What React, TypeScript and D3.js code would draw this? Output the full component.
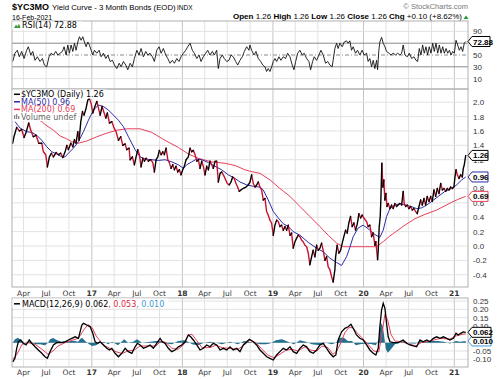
import React from "react";
import * as d3 from "d3";

const W = 500;
const H = 379;
const L = 12;
const R = 468;
const RSI_TOP = 21;
const MAIN_TOP = 89;
const MAIN_BOT = 287;
const MACD_TOP = 298;
const MACD_BOT = 367;

// time as decimal year, value
const priceSeries: [number, number][] = [
  [2016.129,1.43],[2016.143,1.52],[2016.173,1.65],[2016.202,1.60],[2016.228,1.62],[2016.254,1.51],[2016.276,1.58],[2016.306,1.71],[2016.328,1.61],[2016.356,1.52],[2016.386,1.54],[2016.416,1.43],[2016.449,1.43],[2016.467,1.31],[2016.493,1.27],[2016.511,1.10],[2016.533,1.24],[2016.555,1.29],[2016.577,1.24],[2016.607,1.30],[2016.632,1.27],[2016.658,1.29],[2016.681,1.23],[2016.706,1.31],[2016.725,1.40],[2016.742,1.34],[2016.769,1.43],[2016.791,1.38],[2016.809,1.48],[2016.827,1.43],[2016.846,1.59],[2016.860,1.47],[2016.879,1.73],[2016.897,1.87],[2016.915,1.82],[2016.938,1.92],[2016.956,2.03],[2016.974,2.05],[2016.993,1.98],
  [2017.011,1.85],[2017.034,1.94],[2017.056,2.01],[2017.073,1.92],[2017.092,1.82],[2017.114,1.94],[2017.136,1.85],[2017.155,1.78],[2017.172,1.85],[2017.195,1.71],[2017.221,1.73],[2017.246,1.64],[2017.268,1.59],[2017.294,1.47],[2017.320,1.52],[2017.342,1.40],[2017.368,1.42],[2017.386,1.34],[2017.412,1.36],[2017.423,1.20],[2017.448,1.24],[2017.470,1.13],[2017.489,1.24],[2017.508,1.34],[2017.525,1.27],[2017.544,1.10],[2017.563,1.22],[2017.581,1.18],[2017.599,1.22],[2017.625,1.18],[2017.651,1.20],[2017.673,1.16],[2017.691,1.03],[2017.710,1.20],[2017.729,1.24],[2017.746,1.33],[2017.765,1.27],[2017.784,1.31],[2017.801,1.27],[2017.820,1.36],[2017.839,1.20],[2017.856,1.16],[2017.875,1.08],[2017.894,1.13],[2017.912,1.06],[2017.930,1.11],[2017.949,1.03],[2017.967,1.06],[2017.985,0.99],
  [2018.004,1.06],[2018.022,1.11],[2018.041,1.20],[2018.066,1.24],[2018.085,1.36],[2018.103,1.31],[2018.121,1.33],[2018.140,1.27],[2018.159,1.18],[2018.177,1.20],[2018.195,1.08],[2018.214,1.18],[2018.231,1.11],[2018.250,0.99],[2018.269,1.11],[2018.287,1.06],[2018.305,1.18],[2018.324,1.13],[2018.342,1.08],[2018.361,1.18],[2018.379,1.18],[2018.397,0.89],[2018.416,1.01],[2018.434,1.03],[2018.452,0.99],[2018.471,0.94],[2018.496,0.87],[2018.518,0.85],[2018.537,0.89],[2018.555,0.96],[2018.573,0.94],[2018.592,0.87],[2018.610,0.82],[2018.628,0.76],[2018.647,0.78],[2018.672,0.80],[2018.702,0.82],[2018.727,0.85],[2018.747,0.89],[2018.765,0.99],[2018.783,0.87],[2018.802,0.82],[2018.821,0.85],[2018.838,0.89],[2018.857,0.82],[2018.875,0.78],[2018.893,0.64],[2018.912,0.66],[2018.930,0.48],[2018.948,0.43],[2018.966,0.36],[2018.985,0.32],
  [2019.004,0.15],[2019.022,0.29],[2019.041,0.36],[2019.059,0.34],[2019.077,0.27],[2019.096,0.29],[2019.114,0.22],[2019.133,0.27],[2019.151,0.22],[2019.169,0.29],[2019.188,0.15],[2019.206,0.18],[2019.224,-0.03],[2019.243,0.06],[2019.262,0.11],[2019.279,0.15],[2019.298,0.13],[2019.317,0.08],[2019.334,0.06],[2019.353,0.01],[2019.372,-0.01],[2019.390,-0.10],[2019.408,-0.26],[2019.427,-0.15],[2019.444,-0.06],[2019.463,-0.15],[2019.482,0.01],[2019.500,-0.06],[2019.519,-0.03],[2019.537,0.04],[2019.555,-0.06],[2019.574,-0.20],[2019.593,-0.15],[2019.610,-0.29],[2019.629,-0.33],[2019.648,-0.43],[2019.665,-0.50],[2019.684,-0.33],[2019.692,-0.15],[2019.709,0.01],[2019.728,-0.10],[2019.747,-0.06],[2019.765,0.04],[2019.783,0.13],[2019.802,0.22],[2019.820,0.18],[2019.838,0.32],[2019.857,0.41],[2019.875,0.27],[2019.894,0.32],[2019.912,0.22],[2019.930,0.30],[2019.941,0.38],[2019.949,0.45],[2019.968,0.39],[2019.985,0.43],
  [2020.004,0.39],[2020.034,0.34],[2020.051,0.27],[2020.070,0.29],[2020.089,0.13],[2020.107,0.18],[2020.125,0.01],[2020.136,0.06],[2020.155,-0.19],[2020.162,-0.06],[2020.173,0.27],[2020.184,0.41],[2020.191,0.64],[2020.202,1.15],[2020.213,0.82],[2020.224,0.92],[2020.235,0.64],[2020.247,0.73],[2020.258,0.55],[2020.272,0.59],[2020.291,0.52],[2020.309,0.57],[2020.327,0.52],[2020.346,0.59],[2020.364,0.55],[2020.382,0.57],[2020.401,0.59],[2020.420,0.57],[2020.437,0.76],[2020.448,0.59],[2020.464,0.55],[2020.481,0.57],[2020.500,0.52],[2020.519,0.55],[2020.537,0.50],[2020.555,0.52],[2020.574,0.48],[2020.592,0.45],[2020.611,0.55],[2020.629,0.64],[2020.647,0.57],[2020.666,0.66],[2020.684,0.57],[2020.702,0.69],[2020.721,0.62],[2020.740,0.69],[2020.757,0.62],[2020.776,0.78],[2020.794,0.69],[2020.813,0.80],[2020.831,0.73],[2020.850,0.87],[2020.868,0.78],[2020.886,0.80],[2020.905,0.76],[2020.923,0.80],[2020.941,0.78],[2020.960,0.82],[2020.978,0.80],[2020.996,0.82],
  [2021.007,0.96],[2021.019,1.06],[2021.033,0.99],[2021.052,0.94],[2021.070,0.99],[2021.088,0.96],[2021.099,1.08],[2021.110,1.13],[2021.126,1.26]
];

const ma50Series: [number, number][] = [
  [2016.154,1.73],[2016.210,1.64],[2016.283,1.59],[2016.339,1.58],[2016.394,1.54],[2016.449,1.47],[2016.504,1.38],[2016.559,1.31],[2016.614,1.28],[2016.670,1.24],[2016.706,1.24],[2016.742,1.29],[2016.797,1.36],[2016.853,1.45],[2016.908,1.59],[2016.963,1.75],[2017.018,1.89],[2017.073,1.96],[2017.128,1.94],[2017.184,1.89],[2017.239,1.82],[2017.294,1.75],[2017.349,1.66],[2017.404,1.52],[2017.478,1.34],[2017.533,1.24],[2017.588,1.21],[2017.662,1.20],[2017.735,1.19],[2017.809,1.20],[2017.883,1.17],[2017.956,1.13],[2018.011,1.08],[2018.048,1.13],[2018.103,1.17],[2018.159,1.21],[2018.214,1.20],[2018.287,1.16],[2018.360,1.11],[2018.434,1.06],[2018.507,0.99],[2018.581,0.94],[2018.636,0.89],[2018.710,0.85],[2018.783,0.83],[2018.857,0.82],[2018.893,0.78],[2018.948,0.64],[2019.004,0.48],[2019.059,0.39],[2019.114,0.31],[2019.169,0.27],[2019.224,0.20],[2019.298,0.15],[2019.390,0.05],[2019.482,-0.03],[2019.555,-0.08],[2019.629,-0.17],[2019.703,-0.23],[2019.758,-0.27],[2019.813,-0.15],[2019.849,-0.02],[2019.886,0.13],[2019.941,0.25],[2019.996,0.29],[2020.051,0.24],[2020.125,0.16],[2020.180,0.12],[2020.217,0.22],[2020.254,0.41],[2020.291,0.52],[2020.346,0.57],[2020.401,0.59],[2020.456,0.57],[2020.523,0.55],[2020.585,0.52],[2020.640,0.53],[2020.696,0.57],[2020.751,0.62],[2020.823,0.69],[2020.897,0.76],[2020.971,0.80],[2021.026,0.85],[2021.082,0.92],[2021.126,0.96]
];

const ma200Series: [number, number][] = [
  [2016.129,1.93],[2016.320,1.82],[2016.450,1.73],[2016.485,1.69],[2016.577,1.61],[2016.651,1.53],[2016.725,1.49],[2016.780,1.45],[2016.853,1.43],[2016.945,1.46],[2017.056,1.52],[2017.166,1.57],[2017.276,1.61],[2017.386,1.63],[2017.533,1.63],[2017.662,1.58],[2017.809,1.47],[2017.956,1.37],[2018.066,1.28],[2018.176,1.22],[2018.324,1.17],[2018.471,1.15],[2018.581,1.12],[2018.691,1.06],[2018.746,1.04],[2018.857,1.01],[2018.967,0.92],[2019.077,0.80],[2019.188,0.69],[2019.298,0.55],[2019.408,0.41],[2019.519,0.27],[2019.610,0.15],[2019.703,0.04],[2019.776,-0.01],[2019.872,-0.01],[2019.982,-0.01],[2020.144,-0.01],[2020.217,0.06],[2020.291,0.14],[2020.368,0.21],[2020.456,0.29],[2020.567,0.38],[2020.677,0.44],[2020.806,0.50],[2020.897,0.56],[2020.974,0.61],[2021.044,0.65],[2021.126,0.69]
];

const rsiSeries: [number, number][] = [
  [2016.129,39],[2016.154,53],[2016.180,58],[2016.202,47],[2016.228,56],[2016.254,44],[2016.283,58],[2016.301,64],[2016.328,50],[2016.350,56],[2016.375,41],[2016.400,47],[2016.430,39],[2016.456,44],[2016.478,33],[2016.504,30],[2016.529,47],[2016.552,53],[2016.577,50],[2016.603,56],[2016.625,50],[2016.651,53],[2016.676,56],[2016.695,64],[2016.717,50],[2016.736,67],[2016.753,53],[2016.772,67],[2016.791,56],[2016.809,70],[2016.827,58],[2016.846,72],[2016.864,81],[2016.882,75],[2016.901,81],[2016.919,72],[2016.938,64],[2016.956,72],[2016.974,67],[2016.993,58],
  [2017.011,50],[2017.029,58],[2017.056,53],[2017.081,58],[2017.103,47],[2017.128,53],[2017.155,44],[2017.177,50],[2017.202,39],[2017.228,41],[2017.250,33],[2017.276,27],[2017.302,36],[2017.324,30],[2017.349,39],[2017.375,33],[2017.397,25],[2017.423,36],[2017.448,30],[2017.470,44],[2017.497,58],[2017.522,50],[2017.544,61],[2017.570,47],[2017.596,56],[2017.618,50],[2017.643,53],[2017.669,47],[2017.691,39],[2017.717,58],[2017.743,64],[2017.765,53],[2017.790,61],[2017.817,50],[2017.839,44],[2017.864,36],[2017.889,41],[2017.912,36],[2017.938,44],[2017.963,39],[2017.985,47],
  [2018.011,53],[2018.037,58],[2018.059,64],[2018.085,70],[2018.110,58],[2018.132,53],[2018.159,44],[2018.184,50],[2018.206,39],[2018.231,47],[2018.258,53],[2018.280,58],[2018.305,50],[2018.331,56],[2018.353,50],[2018.379,58],[2018.397,27],[2018.416,44],[2018.441,50],[2018.463,44],[2018.490,39],[2018.515,41],[2018.537,50],[2018.562,47],[2018.589,39],[2018.611,33],[2018.636,41],[2018.662,47],[2018.684,56],[2018.710,64],[2018.735,58],[2018.746,67],[2018.765,58],[2018.791,50],[2018.813,56],[2018.838,44],[2018.865,39],[2018.887,33],[2018.912,30],[2018.930,22],[2018.948,27],[2018.967,22],[2018.986,30],
  [2019.004,39],[2019.022,44],[2019.041,39],[2019.066,47],[2019.088,41],[2019.114,47],[2019.140,44],[2019.162,53],[2019.188,47],[2019.213,33],[2019.232,25],[2019.251,39],[2019.273,53],[2019.298,58],[2019.323,50],[2019.345,53],[2019.372,44],[2019.397,39],[2019.416,25],[2019.438,39],[2019.456,47],[2019.482,41],[2019.508,50],[2019.530,58],[2019.555,50],[2019.581,36],[2019.604,39],[2019.629,33],[2019.654,30],[2019.665,41],[2019.684,61],[2019.703,70],[2019.720,61],[2019.739,70],[2019.765,64],[2019.787,72],[2019.813,74],[2019.831,70],[2019.849,74],[2019.868,58],[2019.886,64],[2019.912,53],[2019.934,58],[2019.960,50],[2019.985,58],
  [2020.007,50],[2020.034,53],[2020.051,39],[2020.070,44],[2020.089,30],[2020.107,41],[2020.125,27],[2020.144,41],[2020.155,25],[2020.169,58],[2020.180,72],[2020.199,80],[2020.217,70],[2020.236,64],[2020.254,56],[2020.280,53],[2020.302,50],[2020.327,53],[2020.353,50],[2020.376,53],[2020.401,50],[2020.420,53],[2020.437,67],[2020.456,50],[2020.482,47],[2020.504,53],[2020.530,44],[2020.555,47],[2020.577,41],[2020.596,39],[2020.614,61],[2020.633,50],[2020.651,67],[2020.669,53],[2020.688,64],[2020.706,50],[2020.724,64],[2020.743,53],[2020.762,70],[2020.779,56],[2020.798,70],[2020.817,53],[2020.835,67],[2020.853,53],[2020.872,64],[2020.890,53],[2020.909,61],[2020.927,53],[2020.946,58],[2020.964,50],[2020.982,56],
  [2021.000,53],[2021.019,75],[2021.037,67],[2021.055,58],[2021.074,64],[2021.092,56],[2021.110,70],[2021.126,72.88]
];

const macdSeries: [number, number][] = [
  [2016.129,-0.115],[2016.154,-0.094],[2016.173,-0.034],[2016.191,0.005],[2016.217,0.016],[2016.246,-0.004],[2016.276,-0.014],[2016.312,0.016],[2016.339,-0.004],[2016.375,-0.025],[2016.411,-0.044],[2016.449,-0.064],[2016.485,-0.085],[2016.511,-0.094],[2016.540,-0.055],[2016.577,-0.014],[2016.614,0.0],[2016.670,0.0],[2016.706,0.005],[2016.742,0.016],[2016.780,0.026],[2016.816,0.035],[2016.853,0.026],[2016.871,0.065],[2016.890,0.106],[2016.908,0.116],[2016.945,0.106],[2016.982,0.095],
  [2017.011,0.056],[2017.037,0.005],[2017.062,-0.004],[2017.092,0.005],[2017.128,-0.014],[2017.166,-0.034],[2017.195,-0.044],[2017.221,-0.034],[2017.257,-0.064],[2017.294,-0.085],[2017.331,-0.064],[2017.368,-0.034],[2017.404,-0.054],[2017.442,-0.064],[2017.478,-0.025],[2017.503,-0.004],[2017.533,-0.014],[2017.570,-0.034],[2017.607,-0.025],[2017.643,-0.014],[2017.680,-0.034],[2017.717,-0.004],[2017.754,0.026],[2017.779,0.005],[2017.809,-0.004],[2017.845,-0.034],[2017.883,-0.054],[2017.919,-0.044],[2017.956,-0.025],[2017.993,-0.014],
  [2018.030,0.005],[2018.066,0.046],[2018.092,0.035],[2018.121,0.016],[2018.159,-0.014],[2018.195,-0.044],[2018.231,-0.034],[2018.269,-0.014],[2018.305,-0.025],[2018.342,-0.004],[2018.379,-0.014],[2018.416,-0.044],[2018.452,-0.034],[2018.490,-0.044],[2018.526,-0.025],[2018.562,-0.044],[2018.600,-0.034],[2018.636,-0.054],[2018.673,-0.014],[2018.710,0.005],[2018.740,0.02],[2018.783,0.005],[2018.820,-0.014],[2018.857,-0.044],[2018.893,-0.064],[2018.931,-0.085],[2018.967,-0.094],
  [2019.004,-0.104],[2019.041,-0.074],[2019.077,-0.054],[2019.114,-0.034],[2019.151,-0.044],[2019.188,-0.025],[2019.224,-0.054],[2019.262,-0.064],[2019.298,-0.034],[2019.334,-0.014],[2019.372,-0.025],[2019.408,-0.054],[2019.445,-0.064],[2019.482,-0.044],[2019.519,-0.014],[2019.555,-0.004],[2019.593,-0.034],[2019.629,-0.064],[2019.665,-0.085],[2019.695,-0.074],[2019.720,0.016],[2019.758,0.065],[2019.794,0.086],[2019.831,0.095],[2019.861,0.11],[2019.886,0.086],[2019.923,0.046],[2019.960,0.026],[2019.996,0.016],
  [2020.034,-0.014],[2020.070,-0.044],[2020.107,-0.064],[2020.136,-0.074],[2020.162,-0.034],[2020.180,0.095],[2020.199,0.196],[2020.217,0.236],[2020.236,0.206],[2020.254,0.116],[2020.272,0.035],[2020.291,0.005],[2020.327,0.0],[2020.382,0.0],[2020.437,0.016],[2020.475,-0.004],[2020.511,-0.014],[2020.548,-0.02],[2020.585,-0.025],[2020.622,0.016],[2020.658,0.005],[2020.696,0.016],[2020.732,0.005],[2020.769,0.026],[2020.806,0.035],[2020.842,0.026],[2020.879,0.035],[2020.916,0.026],[2020.952,0.016],[2020.989,0.026],
  [2021.019,0.056],[2021.044,0.046],[2021.070,0.056],[2021.099,0.065],[2021.126,0.062]
];

const signalSeries: [number, number][] = [
  [2016.129,-0.10],[2016.176,-0.07],[2016.232,-0.01],[2016.298,0.0],[2016.375,-0.01],[2016.452,-0.04],[2016.518,-0.07],[2016.574,-0.05],[2016.629,-0.02],[2016.706,0.0],[2016.783,0.015],[2016.849,0.025],[2016.893,0.06],[2016.915,0.08],[2016.960,0.108],
  [2017.004,0.09],[2017.048,0.04],[2017.092,0.01],[2017.147,-0.02],[2017.202,-0.035],[2017.268,-0.055],[2017.335,-0.065],[2017.398,-0.05],[2017.467,-0.045],[2017.533,-0.02],[2017.621,-0.02],[2017.710,-0.02],[2017.765,0.01],[2017.820,0.0],[2017.886,-0.035],[2017.952,-0.04],
  [2018.018,-0.01],[2018.063,0.045],[2018.107,0.05],[2018.162,0.01],[2018.217,-0.03],[2018.305,-0.03],[2018.371,-0.015],[2018.438,-0.03],[2018.526,-0.035],[2018.614,-0.04],[2018.691,-0.01],[2018.746,0.015],[2018.812,0.0],[2018.879,-0.04],[2018.945,-0.075],
  [2019.011,-0.09],[2019.077,-0.07],[2019.144,-0.045],[2019.210,-0.04],[2019.276,-0.05],[2019.353,-0.025],[2019.419,-0.045],[2019.485,-0.05],[2019.541,-0.02],[2019.608,-0.03],[2019.662,-0.07],[2019.706,-0.05],[2019.750,0.0],[2019.794,0.06],[2019.838,0.09],[2019.883,0.09],[2019.927,0.06],[2019.982,0.03],
  [2020.048,-0.01],[2020.114,-0.05],[2020.169,-0.055],[2020.202,0.05],[2020.236,0.17],[2020.269,0.13],[2020.302,0.05],[2020.346,0.01],[2020.423,0.005],[2020.511,-0.01],[2020.577,-0.02],[2020.633,0.0],[2020.732,0.01],[2020.842,0.025],[2020.952,0.022],
  [2021.019,0.04],[2021.085,0.05],[2021.126,0.053]
];

const histSeries: [number, number][] = [
  [2016.129,0.0],[2016.154,0.02],[2016.188,0.03],[2016.221,0.015],[2016.265,-0.005],[2016.320,0.01],[2016.375,-0.01],[2016.430,-0.01],[2016.485,-0.015],[2016.518,0.0],[2016.540,0.02],[2016.574,0.028],[2016.618,0.015],[2016.673,0.005],[2016.717,0.01],[2016.761,0.01],[2016.805,0.012],[2016.849,0.005],[2016.871,0.02],[2016.893,0.03],[2016.927,0.01],[2016.971,-0.01],
  [2017.004,-0.02],[2017.048,-0.015],[2017.092,0.0],[2017.136,0.005],[2017.180,-0.01],[2017.224,0.005],[2017.290,-0.015],[2017.357,0.02],[2017.401,0.0],[2017.456,0.005],[2017.500,0.02],[2017.555,0.0],[2017.643,0.005],[2017.710,0.01],[2017.754,0.01],[2017.820,-0.005],[2017.886,-0.01],[2017.952,0.01],
  [2018.018,0.015],[2018.063,0.005],[2018.107,-0.01],[2018.173,-0.015],[2018.239,0.0],[2018.305,0.005],[2018.371,0.0],[2018.438,-0.01],[2018.526,0.005],[2018.614,-0.01],[2018.680,0.01],[2018.724,0.005],[2018.791,0.0],[2018.857,-0.01],[2018.923,-0.01],[2018.967,-0.005],
  [2019.033,0.015],[2019.099,0.02],[2019.166,0.005],[2019.232,-0.01],[2019.298,0.015],[2019.364,0.005],[2019.430,-0.01],[2019.519,-0.015],[2019.585,0.0],[2019.651,-0.01],[2019.695,0.0],[2019.739,0.03],[2019.783,0.03],[2019.827,0.01],[2019.872,0.01],[2019.916,-0.015],[2019.960,-0.01],
  [2020.026,-0.005],[2020.092,-0.01],[2020.136,-0.015],[2020.169,0.02],[2020.191,0.12],[2020.213,0.10],[2020.246,-0.04],[2020.269,-0.06],[2020.302,-0.04],[2020.346,-0.01],[2020.401,0.0],[2020.445,0.01],[2020.511,-0.005],[2020.577,-0.005],[2020.622,0.01],[2020.688,0.005],[2020.754,0.01],[2020.820,0.01],[2020.886,0.005],[2020.952,-0.005],
  [2021.019,0.01],[2021.063,0.005],[2021.126,0.010]
];

const mainTicks = [-0.4, -0.2, 0.0, 0.2, 0.4, 0.6, 0.8, 1.0, 1.2, 1.4, 1.6, 1.8, 2.0];
const rsiTicks = [10, 30, 50, 70, 90];
const macdTicks = [-0.1, -0.05, 0.0, 0.05, 0.1, 0.15, 0.2, 0.25];
const monthNames = ["Jan", "Feb", "Mar", "Apr", "May", "Jun", "Jul", "Aug", "Sep", "Oct", "Nov", "Dec"];

const toDate = (t: number) => {
  const y = Math.floor(t);
  const s = Date.UTC(y, 0, 1);
  const e = Date.UTC(y + 1, 0, 1);
  return new Date(s + (t - y) * (e - s));
};

const SANS = "'Liberation Sans', Arial, sans-serif";
const VERD = "'DejaVu Sans', Verdana, sans-serif";

const C_PRICE_DOWN = "#c8102e";
const C_MA50 = "#2b2ba8";
const C_MA200 = "#e8405a";
const C_HIST = "#23708f";
const C_LBLUE = "#3d9ad6";

function ValueBox({ x, y, text, color, w }: { x: number; y: number; text: string; color: string; w: number }) {
  const p = `M${x},${y} L${x + 4},${y - 5} L${x + w},${y - 5} L${x + w},${y + 5} L${x + 4},${y + 5} Z`;
  return (
    <g>
      <path d={p} fill="#fff" stroke={color} strokeWidth={1} />
      <text x={x + 5} y={y + 3} fontFamily={SANS} fontSize={8} fontWeight="bold" fill="#000">{text}</text>
    </g>
  );
}

// hide a tick label when a value box sits on it (as the reference does)
const visibleTick = (ty: number, boxes: number[]) => boxes.every((b) => Math.abs(b - ty) > 4);

export default function App() {
  const x = d3.scaleUtc().domain([toDate(2016.1213), toDate(2021.151)]).range([L, R]);
  const yMain = d3.scaleLinear().domain([0, 2]).range([246, 102.2]);
  const yRsi = d3.scaleLinear().domain([10, 90]).range([78.6, 31.4]);
  const yMacd = d3.scaleLinear().domain([-0.1, 0.25]).range([359.3, 301]);

  const [d0, d1] = x.domain();
  const quarters = d3.utcMonth.every(3)!.range(d0, d1);

  const px = (d: [number, number]) => x(toDate(d[0]));
  const lineMain = d3.line<[number, number]>().x(px).y((d) => yMain(d[1]));
  const lineRsi = d3.line<[number, number]>().x(px).y((d) => yRsi(d[1]));
  const lineMacd = d3.line<[number, number]>().x(px).y((d) => yMacd(d[1]));
  const areaHist = d3.area<[number, number]>().x(px).y0(yMacd(0)).y1((d) => yMacd(d[1]));

  let upPath = "";
  let downPath = "";
  for (let i = 1; i < priceSeries.length; i++) {
    const seg = lineMain([priceSeries[i - 1], priceSeries[i]]) || "";
    if (priceSeries[i][1] >= priceSeries[i - 1][1]) upPath += seg;
    else downPath += seg;
  }

  const vGrid = (top: number, bot: number) =>
    quarters.map((q, i) => (
      <line key={i} x1={x(q)} x2={x(q)} y1={top} y2={bot} stroke={q.getUTCMonth() === 0 ? "#c4c4c4" : "#e2e2e2"} strokeWidth={1} />
    ));

  const dateLabels = (yb: number) =>
    quarters.map((q, i) => {
      const m = q.getUTCMonth();
      const isYear = m === 0;
      return (
        <text key={i} x={x(q)} y={yb} textAnchor="middle" fontFamily={VERD} fontSize={7.5} fontWeight={isYear ? "bold" : "normal"} fill="#333">
          {isYear ? String(q.getUTCFullYear()).slice(2) : monthNames[m]}
        </text>
      );
    });

  const last = priceSeries[priceSeries.length - 1][1];
  const lastMa50 = ma50Series[ma50Series.length - 1][1];
  const lastMa200 = ma200Series[ma200Series.length - 1][1];
  const lastRsi = rsiSeries[rsiSeries.length - 1][1];
  const lastMacd = macdSeries[macdSeries.length - 1][1];
  const lastSig = signalSeries[signalSeries.length - 1][1];
  const lastHist = histSeries[histSeries.length - 1][1];

  const mainBoxes = [yMain(last), yMain(lastMa50), yMain(lastMa200)];
  const rsiBoxes = [yRsi(lastRsi)];
  const macdBoxes = [yMacd(lastMacd), yMacd(lastHist)];

  return (
    <svg width={W} height={H} style={{ position: "absolute", left: 0, top: 0, background: "#fff" }}>
      <defs>
        <clipPath id="cMain"><rect x={L} y={MAIN_TOP} width={R - L} height={MAIN_BOT - MAIN_TOP} /></clipPath>
        <clipPath id="cRsi"><rect x={L} y={RSI_TOP} width={R - L} height={MAIN_TOP - RSI_TOP} /></clipPath>
        <clipPath id="cMacd"><rect x={L} y={MACD_TOP} width={R - L} height={MACD_BOT - MACD_TOP} /></clipPath>
      </defs>
      <rect x={0} y={0} width={W} height={H} fill="#fff" />

      {/* header */}
      <text x={12} y={10} fontFamily={SANS} fontSize={9.5} fontWeight="bold" fill="#000" textLength={37} lengthAdjust="spacingAndGlyphs">$YC3MO</text>
      <text x={52} y={10} fontFamily={SANS} fontSize={7.8} fill="#000">Yield Curve - 3 Month Bonds (EOD)</text>
      <text x={177} y={10} fontFamily={SANS} fontSize={6.5} fill="#000">INDX</text>
      <text x={12} y={20} fontFamily={SANS} fontSize={7} fill="#000">16-Feb-2021</text>
      <text x={468} y={9} textAnchor="end" fontFamily={SANS} fontSize={7.5} fill="#777">© StockCharts.com</text>
      <text x={462} y={19} textAnchor="end" fontFamily={SANS} fontSize={8} fill="#000">
        <tspan fontWeight="bold">Open</tspan> 1.26 <tspan fontWeight="bold">High</tspan> 1.26 <tspan fontWeight="bold">Low</tspan> 1.26 <tspan fontWeight="bold">Close</tspan> 1.26 <tspan fontWeight="bold">Chg</tspan> +0.10 (+8.62%)
      </text>
      <path d="M463.5,19 L466,15.5 L468.5,19 Z" fill="#2a9a3a" />

      {/* RSI panel */}
      <g>
        {vGrid(RSI_TOP, MAIN_TOP)}
        {[10, 90].map((v) => (
          <line key={v} x1={L} x2={R} y1={yRsi(v)} y2={yRsi(v)} stroke="#e2e2e2" />
        ))}
        {[30, 70].map((v) => (
          <line key={v} x1={L} x2={R} y1={yRsi(v)} y2={yRsi(v)} stroke="#8a8a8a" strokeWidth={1} />
        ))}
        <line x1={L} x2={R} y1={yRsi(50)} y2={yRsi(50)} stroke="#8a8a8a" strokeDasharray="4,2,1,2" />
        <path d={lineRsi(rsiSeries) || ""} fill="none" stroke="#111" strokeWidth={0.9} clipPath="url(#cRsi)" />
        <rect x={L} y={RSI_TOP} width={R - L} height={MAIN_TOP - RSI_TOP} fill="none" stroke="#b0b0b0" />
        <rect x={12.5} y={21.5} width={70} height={8} fill="#fff" />
        <path d="M14,28 L16,24.5 L17.5,26.5 L19,23.5 L20.5,28 Z" fill="#3c9a3c" />
        <text x={22} y={28.3} fontFamily={VERD} fontSize={8} fill="#000">RSI(14) 72.88</text>
        {rsiTicks.filter((v) => visibleTick(yRsi(v), rsiBoxes)).map((v) => (
          <text key={v} x={473} y={yRsi(v) + 3} fontFamily={SANS} fontSize={8} fill="#333">{v}</text>
        ))}
        <ValueBox x={468} y={yRsi(lastRsi)} text={lastRsi.toFixed(2)} color="#000" w={22} />
      </g>

      {/* main panel */}
      <g>
        {vGrid(MAIN_TOP, MAIN_BOT)}
        {mainTicks.map((v) => (
          <line key={v} x1={L} x2={R} y1={yMain(v)} y2={yMain(v)} stroke="#e2e2e2" />
        ))}
        <g clipPath="url(#cMain)">
          <path d={lineMain(ma200Series) || ""} fill="none" stroke={C_MA200} strokeWidth={1} />
          <path d={lineMain(ma50Series) || ""} fill="none" stroke={C_MA50} strokeWidth={1} />
          <path d={downPath} fill="none" stroke={C_PRICE_DOWN} strokeWidth={1.4} strokeLinecap="round" />
          <path d={upPath} fill="none" stroke="#000" strokeWidth={1.4} strokeLinecap="round" />
        </g>
        <rect x={L} y={MAIN_TOP} width={R - L} height={MAIN_BOT - MAIN_TOP} fill="none" stroke="#b0b0b0" />
        {/* legend */}
        <rect x={12.5} y={89.5} width={94} height={9} fill="#fff" />
        <rect x={12.5} y={98} width={66} height={23} fill="#fff" />
        <line x1={14} x2={20} y1={94.3} y2={94.3} stroke="#000" strokeWidth={1.5} />
        <text x={21} y={97} fontFamily={VERD} fontSize={8} fill="#000">$YC3MO (Daily) 1.26</text>
        <line x1={14} x2={20} y1={101.8} y2={101.8} stroke={C_MA50} strokeWidth={1.5} />
        <text x={21} y={104.5} fontFamily={VERD} fontSize={8} fill={C_MA50}>MA(50) 0.96</text>
        <line x1={14} x2={20} y1={109.4} y2={109.4} stroke={C_MA200} strokeWidth={1.5} />
        <text x={21} y={112.1} fontFamily={VERD} fontSize={8} fill={C_MA200}>MA(200) 0.69</text>
        <rect x={14} y={115} width={1.3} height={4} fill="#888" />
        <rect x={16} y={114} width={1.3} height={5} fill="#888" />
        <rect x={18} y={116} width={1.3} height={3} fill="#888" />
        <text x={21} y={119.7} fontFamily={VERD} fontSize={8} fill="#666">Volume undef</text>
        {mainTicks.filter((v) => visibleTick(yMain(v), mainBoxes)).map((v) => (
          <text key={v} x={473} y={yMain(v) + 3} fontFamily={SANS} fontSize={8} fill="#333">{v.toFixed(1)}</text>
        ))}
        <ValueBox x={468} y={yMain(lastMa200)} text={lastMa200.toFixed(2)} color={C_MA200} w={20} />
        <ValueBox x={468} y={yMain(lastMa50)} text={lastMa50.toFixed(2)} color={C_MA50} w={20} />
        <ValueBox x={468} y={yMain(last)} text={last.toFixed(2)} color="#000" w={20} />
      </g>

      {dateLabels(296)}

      {/* MACD panel */}
      <g>
        {vGrid(MACD_TOP, MACD_BOT)}
        {macdTicks.map((v) => (
          <line key={v} x1={L} x2={R} y1={yMacd(v)} y2={yMacd(v)} stroke="#e2e2e2" />
        ))}
        <g clipPath="url(#cMacd)">
          <path d={areaHist(histSeries) || ""} fill={C_HIST} stroke="none" />
          <path d={lineMacd(signalSeries) || ""} fill="none" stroke={C_MA200} strokeWidth={1} />
          <path d={lineMacd(macdSeries) || ""} fill="none" stroke="#000" strokeWidth={1.3} />
        </g>
        <rect x={L} y={MACD_TOP} width={R - L} height={MACD_BOT - MACD_TOP} fill="none" stroke="#b0b0b0" />
        <rect x={12.5} y={298.5} width={156} height={9} fill="#fff" />
        <line x1={14} x2={20} y1={303.8} y2={303.8} stroke="#000" strokeWidth={1.5} />
        <text x={22} y={306.5} fontFamily={VERD} fontSize={8} fill="#000">
          MACD(12,26,9) {lastMacd.toFixed(3)}
          <tspan fill="#e0283c">, {lastSig.toFixed(3)}</tspan>
          <tspan fill={C_LBLUE}>, {lastHist.toFixed(3)}</tspan>
        </text>
        {macdTicks.filter((v) => visibleTick(yMacd(v), macdBoxes)).map((v) => (
          <text key={v} x={473} y={yMacd(v) + 3} fontFamily={SANS} fontSize={8} fill="#333">{v.toFixed(2)}</text>
        ))}
        <ValueBox x={468} y={yMacd(lastHist)} text={lastHist.toFixed(3)} color={C_LBLUE} w={23} />
        <ValueBox x={468} y={yMacd(lastMacd)} text={lastMacd.toFixed(3)} color="#000" w={23} />
      </g>

      {dateLabels(374.5)}
    </svg>
  );
}
